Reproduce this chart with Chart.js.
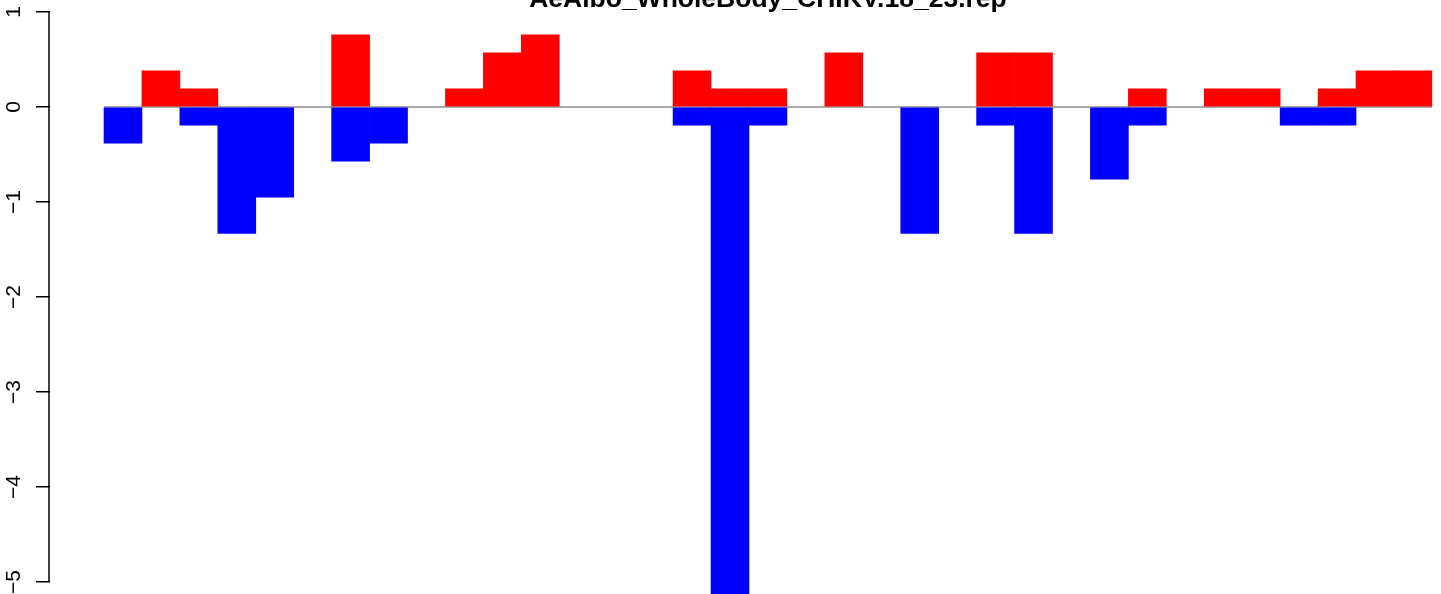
<!DOCTYPE html>
<html>
<head>
<meta charset="utf-8">
<script src="https://cdn.jsdelivr.net/npm/chart.js@4"></script>
<style>
html, body { margin: 0; padding: 0; background: #fff; overflow: hidden; }
#wrap { width: 1441px; height: 594px; position: relative; }
</style>
</head>
<body>
<div id="wrap"><canvas id="BarChart"></canvas></div>
<script>
const title_text = 'AeAlbo_WholeBody_CHIKV.18_23.rep';

// one value per bin, red = up, blue = down
const up_values = [
    0, 0.38, 0.19, 0, 0, 0, 0.76, 0, 0, 0.19,
    0.57, 0.76, 0, 0, 0, 0.38, 0.19, 0.19, 0, 0.57,
    0, 0, 0, 0.57, 0.57, 0, 0, 0.19, 0, 0.19,
    0.19, 0, 0.19, 0.38, 0.38
];
const down_values = [
    -0.38, 0, -0.19, -1.33, -0.95, 0, -0.57, -0.38, 0, 0,
    0, 0, 0, 0, 0, -0.19, -5.13, -0.19, 0, 0,
    0, -1.33, 0, -0.19, -1.33, 0, -0.76, -0.19, 0, 0,
    0, -0.19, -0.19, 0, 0
];
const y_ticks = [1, 0, -1, -2, -3, -4, -5];

const toPoints = (vals) => vals.map((v, i) => ({ x: i + 0.5, y: v === 0 ? null : v }));

const bar_data = {
    datasets: [{
        label: 'up',
        data: toPoints(up_values),
        backgroundColor: 'rgb(255, 0, 0)',
        borderWidth: 0,
        barPercentage: 1,
        categoryPercentage: 1
    }, {
        label: 'down',
        data: toPoints(down_values),
        backgroundColor: 'rgb(0, 0, 255)',
        borderWidth: 0,
        barPercentage: 1,
        categoryPercentage: 1
    }]
};

const rAxis = {
    id: 'rAxis',
    beforeDatasetsDraw(chart) {
        const { ctx, scales: { x, y } } = chart;
        ctx.save();
        ctx.strokeStyle = '#8c8c8c';
        ctx.lineWidth = 1.5;
        ctx.beginPath();
        ctx.moveTo(x.getPixelForValue(0), y.getPixelForValue(0));
        ctx.lineTo(x.getPixelForValue(up_values.length), y.getPixelForValue(0));
        ctx.stroke();
        ctx.restore();
    },
    afterDraw(chart) {
        const { ctx, scales: { x, y } } = chart;
        ctx.save();
        // axis line only between first and last tick, like R
        const ax = y.right - 1;
        ctx.strokeStyle = '#000';
        ctx.lineWidth = 1.5;
        ctx.beginPath();
        ctx.moveTo(ax, y.getPixelForValue(y_ticks[0]));
        ctx.lineTo(ax, y.getPixelForValue(y_ticks[y_ticks.length - 1]));
        ctx.stroke();

        ctx.fillStyle = '#000';
        ctx.font = '21px "Liberation Sans", Arial, sans-serif';
        ctx.textAlign = 'center';
        ctx.textBaseline = 'alphabetic';
        y_ticks.forEach(t => {
            ctx.save();
            ctx.translate(20, y.getPixelForValue(t));
            ctx.rotate(-Math.PI / 2);
            ctx.fillText(String(t).replace('-', '\u2212'), 0, 0);
            ctx.restore();
        });

        ctx.font = 'bold 26.5px "Liberation Sans", Arial, sans-serif';
        ctx.fillText(title_text, x.getPixelForValue(up_values.length / 2), 7);
        ctx.restore();
    }
};

const configBar = {
    type: 'bar',
    data: bar_data,
    options: {
        responsive: true,
        maintainAspectRatio: false,
        animation: false,
        layout: { padding: 0 },
        plugins: {
            legend: { display: false },
            tooltip: { enabled: false },
            title: { display: false }
        },
        scales: {
            x: {
                type: 'linear',
                stacked: true,
                display: false,
                offset: false,
                min: -1.4233,
                max: 35.24
            },
            y: {
                stacked: true,
                min: -5.1263,
                max: 1.1263,
                border: { display: false },
                grid: {
                    drawOnChartArea: false,
                    drawTicks: true,
                    tickLength: 14,
                    color: '#000',
                    lineWidth: 1.5
                },
                ticks: { display: false, stepSize: 1, includeBounds: false },
                afterFit: (s) => { s.width = 50; }
            }
        }
    },
    plugins: [rAxis]
};

const BarChart = new Chart(document.getElementById('BarChart'), configBar);
</script>
</body>
</html>
